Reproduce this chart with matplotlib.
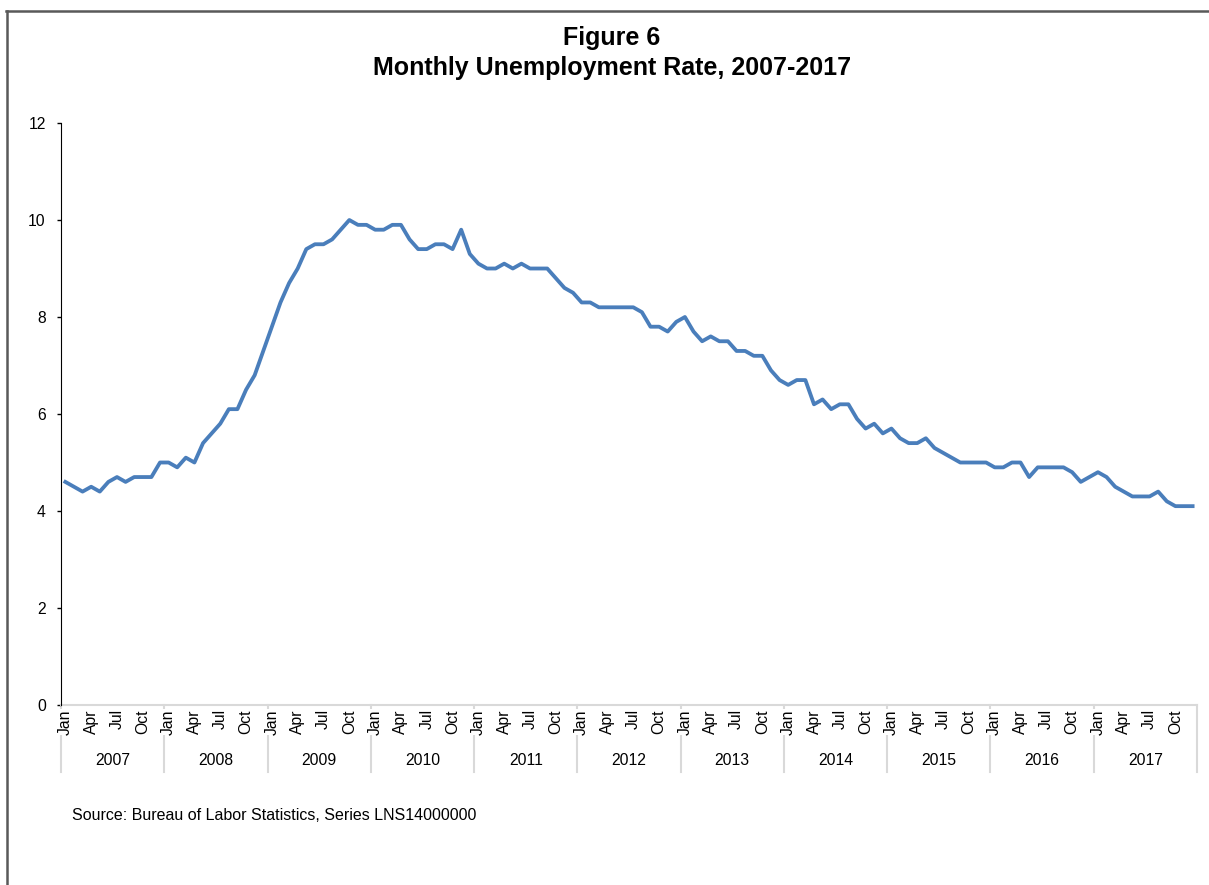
import numpy as np
import matplotlib
matplotlib.use("Agg")
import matplotlib.pyplot as plt
import matplotlib.transforms as mtransforms
from matplotlib.lines import Line2D

plt.rcParams['font.family'] = ['Liberation Sans', 'DejaVu Sans']

# monthly unemployment rate (%), Jan 2007 - Dec 2017
years = [str(y) for y in range(2007, 2018)]
month_labels = ['Jan', 'Apr', 'Jul', 'Oct']
rate_2007 = [4.6, 4.5, 4.4, 4.5, 4.4, 4.6, 4.7, 4.6, 4.7, 4.7, 4.7, 5.0]
rate_2008 = [5.0, 4.9, 5.1, 5.0, 5.4, 5.6, 5.8, 6.1, 6.1, 6.5, 6.8, 7.3]
rate_2009 = [7.8, 8.3, 8.7, 9.0, 9.4, 9.5, 9.5, 9.6, 9.8, 10.0, 9.9, 9.9]
rate_2010 = [9.8, 9.8, 9.9, 9.9, 9.6, 9.4, 9.4, 9.5, 9.5, 9.4, 9.8, 9.3]
rate_2011 = [9.1, 9.0, 9.0, 9.1, 9.0, 9.1, 9.0, 9.0, 9.0, 8.8, 8.6, 8.5]
rate_2012 = [8.3, 8.3, 8.2, 8.2, 8.2, 8.2, 8.2, 8.1, 7.8, 7.8, 7.7, 7.9]
rate_2013 = [8.0, 7.7, 7.5, 7.6, 7.5, 7.5, 7.3, 7.3, 7.2, 7.2, 6.9, 6.7]
rate_2014 = [6.6, 6.7, 6.7, 6.2, 6.3, 6.1, 6.2, 6.2, 5.9, 5.7, 5.8, 5.6]
rate_2015 = [5.7, 5.5, 5.4, 5.4, 5.5, 5.3, 5.2, 5.1, 5.0, 5.0, 5.0, 5.0]
rate_2016 = [4.9, 4.9, 5.0, 5.0, 4.7, 4.9, 4.9, 4.9, 4.9, 4.8, 4.6, 4.7]
rate_2017 = [4.8, 4.7, 4.5, 4.4, 4.3, 4.3, 4.3, 4.4, 4.2, 4.1, 4.1, 4.1]

rates = (rate_2007 + rate_2008 + rate_2009 + rate_2010 + rate_2011 + rate_2012
         + rate_2013 + rate_2014 + rate_2015 + rate_2016 + rate_2017)
x = np.arange(len(rates))

fig = plt.figure(figsize=(12.09, 8.85), dpi=100)
ax = fig.add_axes([0.0505, 0.2034, 0.9395, 0.6576])

ax.plot(x, rates, color='#4a7ebb', linewidth=2.75, solid_joinstyle='round', zorder=3)

ax.set_xlim(-0.5, len(rates) - 0.5)
ax.set_ylim(0, 12)
ax.set_yticks(range(0, 13, 2))
ax.tick_params(axis='y', direction='out', length=3, width=1, labelsize=11.3, pad=8)

tick_pos = [i * 12 + m for i in range(len(years)) for m in (0, 3, 6, 9)]
ax.set_xticks(tick_pos)
ax.set_xticklabels(month_labels * len(years), rotation=90, fontsize=11.3)
ax.tick_params(axis='x', length=0, pad=3)
for lbl in ax.get_xticklabels():
    lbl.set_bbox(dict(facecolor='white', edgecolor='none', pad=0.3))

for s in ('top', 'right'):
    ax.spines[s].set_visible(False)
ax.spines['left'].set_color('black')
ax.spines['left'].set_zorder(4)
ax.spines['bottom'].set_color('#d9d9d9')
ax.spines['bottom'].set_linewidth(1.5)

# year group separators and labels under the month labels
trans = mtransforms.blended_transform_factory(ax.transData, ax.transAxes)
for i in range(len(years) + 1):
    ax.plot([i * 12 - 0.5, i * 12 - 0.5], [0, -0.115], color='#d9d9d9',
            linewidth=1.5, transform=trans, clip_on=False, zorder=0.5)
for i, yr in enumerate(years):
    ax.text(i * 12 + 5.5, -0.095, yr, transform=trans, ha='center', va='center',
            fontsize=11.3)

fig.text(0.506, 0.957, 'Figure 6', ha='center', va='center', fontsize=18,
         fontweight='bold')
fig.text(0.506, 0.923, 'Monthly Unemployment Rate, 2007-2017', ha='center',
         va='center', fontsize=18, fontweight='bold')

fig.text(0.0595, 0.079, 'Source: Bureau of Labor Statistics, Series LNS14000000',
         ha='left', va='center', fontsize=11.5)

# outer frame (left and top edges)
fig.add_artist(Line2D([0.0055, 0.0055], [0, 0.988], color='#595959', linewidth=1.8,
                      transform=fig.transFigure))
fig.add_artist(Line2D([0.0048, 1.0], [0.988, 0.988], color='#595959', linewidth=1.8,
                      transform=fig.transFigure))

fig.savefig('out.png', dpi=100, facecolor='white')
